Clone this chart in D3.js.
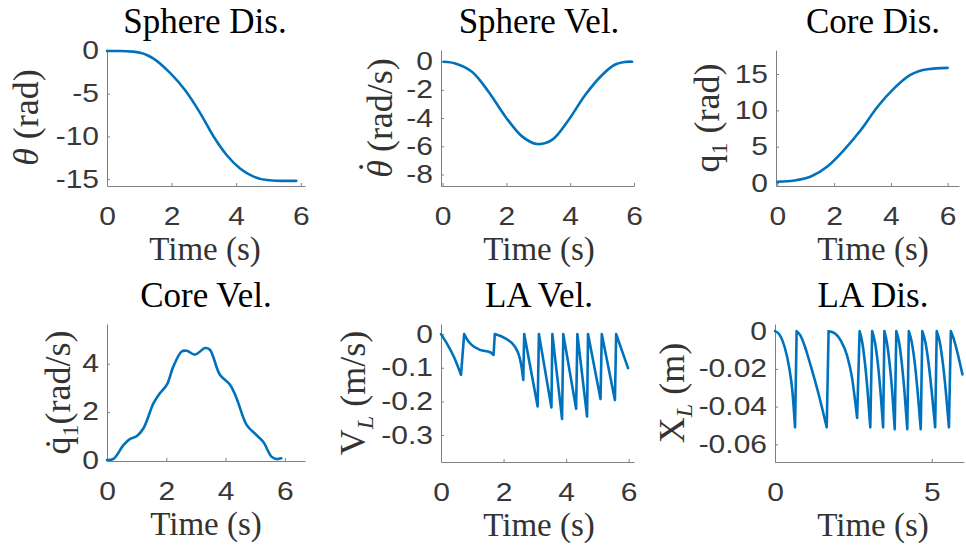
<!DOCTYPE html>
<html>
<head>
<meta charset="utf-8">
<script src="https://cdn.jsdelivr.net/npm/d3@7"></script>
<style>
  body { margin: 0; background: #fff; }
  svg { display: block; }
</style>
</head>
<body>
<svg id="fig" width="966" height="550"></svg>
<script>
// values, [time (s), value]
const sphereDis = [[0,0],[0.4,-0.01],[0.8,-0.08],[1.03,-0.22],[1.25,-0.5],[1.44,-0.9],[1.96,-2.6],[2.42,-4.6],
  [2.89,-7.3],[3.3,-10.0],[3.71,-12.2],[4.12,-13.75],[4.54,-14.7],[4.95,-15.1],[5.46,-15.2],[5.86,-15.2]]
const sphereVel = [[0.03,0],[0.4,-0.12],[0.92,-0.71],[1.44,-2.13],[1.97,-3.9],[2.49,-5.3],[2.96,-5.84],[3.43,-5.55],
  [3.95,-4.13],[4.47,-2.36],[5.0,-0.94],[5.41,-0.2],[5.7,-0.02],[5.94,0]]
const coreDis = [[0,0.18],[0.59,0.36],[1.18,0.9],[1.76,2.28],[2.35,4.57],[2.94,7.3],[3.53,10.5],[4.12,13.05],
  [4.7,14.9],[5.29,15.65],[6.0,15.84]]
const coreVel = [[0,0],[0.22,0.05],[0.56,0.63],[0.78,0.88],[1.0,0.99],[1.23,1.32],[1.57,2.36],[1.79,2.78],[2.02,3.13],
  [2.24,3.89],[2.52,4.51],[2.69,4.54],[2.97,4.38],[3.31,4.65],[3.47,4.58],[3.81,3.54],[4.15,3.13],[4.37,2.57],
  [4.71,1.46],[5.04,1.04],[5.27,0.76],[5.55,0.14],[5.71,0.04],[5.88,0.07]]
const laVel = [[0,0],[0.2,-0.03],[0.4,-0.065],[0.64,-0.121],[0.74,0],[0.85,-0.018],[0.98,-0.032],[1.25,-0.047],
  [1.57,-0.054],[1.68,-0.062],[1.72,0],[2.04,-0.012],[2.36,-0.037],[2.5,-0.065],[2.58,-0.1],[2.63,-0.136],
  [2.66,0],[3.09,-0.215],[3.13,0],[3.53,-0.218],[3.56,0],[3.87,-0.252],[3.91,0],[4.32,-0.222],[4.36,0],
  [4.67,-0.245],[4.7,0],[5.1,-0.193],[5.14,0],[5.56,-0.196],[5.6,0],[5.98,-0.101]]
const laDis = [[0,0],[0.15,-0.002],[0.3,-0.008],[0.45,-0.019],[0.55,-0.031],[0.64,-0.051],
  [0.69,0],[0.8,-0.002],[0.95,-0.008],[1.15,-0.019],[1.4,-0.034],[1.65,-0.051],
  [1.71,0],[1.9,-0.001],[2.1,-0.005],[2.3,-0.013],[2.45,-0.024],[2.62,-0.046],
  [2.7,0],[2.785,-0.006],[2.87,-0.017],[2.955,-0.032],[3.04,-0.051],
  [3.1,0],[3.19,-0.006],[3.28,-0.017],[3.365,-0.032],[3.45,-0.051],
  [3.49,0],[3.57,-0.006],[3.655,-0.017],[3.74,-0.032],[3.82,-0.052],
  [3.87,0],[3.96,-0.006],[4.045,-0.017],[4.13,-0.032],[4.22,-0.052],
  [4.27,0],[4.365,-0.006],[4.46,-0.017],[4.555,-0.033],[4.65,-0.052],
  [4.7,0],[4.8,-0.006],[4.9,-0.017],[5.0,-0.032],[5.11,-0.051],
  [5.16,0],[5.26,-0.006],[5.355,-0.017],[5.45,-0.032],[5.55,-0.051],
  [5.61,0],[5.7,-0.004],[5.8,-0.01],[5.9,-0.017],[5.98,-0.023]]

const titles = ["Sphere Dis.", "Sphere Vel.", "Core Dis.", "Core Vel.", "LA Vel.", "LA Dis."]
const xTickSets = [[0,2,4,6],[0,2,4,6],[0,2,4,6],[0,2,4,6],[0,2,4,6],[0,5]]
const yTickSets = [[0,-5,-10,-15],[0,-2,-4,-6,-8],[0,5,10,15],[0,2,4],[0,-0.1,-0.2,-0.3],[0,-0.02,-0.04,-0.06]]

const lineColor = "#0072BD"
const axisColor = "#808080"
const tickColor = "#383838"
const serif = "'Liberation Serif', 'Times New Roman', serif"
const sans = "'Liberation Sans', Arial, Helvetica, sans-serif"
const tickScaleX = 1.2

// axes boxes and label placement
const panels = [
  { data: sphereDis, curve: "mono", left: 107, right: 305, top: 49, bottom: 186, xDomain: [0, 6.13], yDomain: [-15.8, 0.23],
    titleX: 205, titleY: 33, labelDx: -69,
    ylabel: [{ t: "\u03b8", it: true }, { t: " (rad)" }] },
  { data: sphereVel, curve: "smooth", left: 441, right: 634, top: 50, bottom: 186, xDomain: [-0.05, 6.0], yDomain: [-8.82, 0.83],
    titleX: 539, titleY: 33, labelDx: -49,
    ylabel: [{ t: "\u03b8", it: true }, { t: "\u02d9", dot: true }, { t: " (rad/s)" }] },
  { data: coreDis, curve: "mono", left: 776, right: 959, top: 50, bottom: 186, xDomain: [-0.05, 6.4], yDomain: [-0.4, 18.3],
    titleX: 873, titleY: 33, labelDx: -57,
    ylabel: [{ t: "q" }, { t: "1", sub: true }, { t: " (rad)" }] },
  { data: coreVel, curve: "smooth", left: 107, right: 305, top: 324, bottom: 461, xDomain: [0, 6.68], yDomain: [-0.04, 5.65],
    titleX: 206, titleY: 307, labelDx: -37,
    ylabel: [{ t: "q\u0307" }, { t: "1", sub: true }, { t: "(rad/s)" }] },
  { data: laVel, curve: "saw", left: 441, right: 634, top: 324, bottom: 462, xDomain: [0, 6.17], yDomain: [-0.38, 0.03],
    titleX: 539, titleY: 307, labelDx: -76,
    ylabel: [{ t: "V" }, { t: "L", sub: true, it: true }, { t: " (m/s)" }] },
  { data: laDis, curve: "saw", left: 775, right: 964, top: 324, bottom: 462, xDomain: [0, 6.03], yDomain: [-0.0694, 0.0038],
    titleX: 873, titleY: 307, labelDx: -91,
    ylabel: [{ t: "X" }, { t: "L", sub: true, it: true }, { t: " (m)" }] }
]

const svg = d3.select("#fig")

function tickText(d) { return d === 0 ? "0" : String(d) }

function sawPath(data, line) {
  // split into falling runs, smooth each, join them with straight jumps
  const runs = []
  let run = [data[0]]
  for (let i = 1; i < data.length; i++) {
    if (data[i][1] > data[i - 1][1]) { runs.push(run); run = [] }
    run.push(data[i])
  }
  runs.push(run)
  return runs.map((r, i) => {
    const d = r.length > 1 ? line(r) : `M${line.x()(r[0])},${line.y()(r[0])}`
    return i === 0 ? d : "L" + d.slice(1)
  }).join("")
}

panels.forEach((p, i) => {
  const g = svg.append("g").attr("id", `panel${i}`)
  const x = d3.scaleLinear().domain(p.xDomain).range([p.left, p.right])
  const y = d3.scaleLinear().domain(p.yDomain).range([p.bottom, p.top])

  const xAxis = g.append("g")
    .attr("transform", `translate(0,${p.bottom})`)
    .call(d3.axisBottom(x).tickValues(xTickSets[i]).tickFormat(tickText)
      .tickSizeInner(-3).tickSizeOuter(0).tickPadding(21))
  const yAxis = g.append("g")
    .attr("transform", `translate(${p.left},0)`)
    .call(d3.axisLeft(y).tickValues(yTickSets[i]).tickFormat(tickText)
      .tickSizeInner(-3).tickSizeOuter(0).tickPadding(8))

  for (const ax of [xAxis, yAxis]) {
    ax.select(".domain").attr("stroke", axisColor).attr("stroke-width", 1)
    ax.selectAll(".tick line").attr("stroke", axisColor).attr("stroke-width", 1)
    ax.selectAll(".tick text")
      .attr("fill", tickColor)
      .style("font-family", sans)
      .style("font-size", "25px")
  }
  xAxis.selectAll(".tick text").attr("transform", `scale(${tickScaleX},1)`)
  yAxis.selectAll(".tick text")
    .attr("x", -8 / tickScaleX)
    .attr("transform", `scale(${tickScaleX},1)`)

  const line = d3.line().x(d => x(d[0])).y(d => y(d[1]))
  let pathD
  if (p.curve === "saw") {
    line.curve(d3.curveMonotoneX)
    pathD = sawPath(p.data, line)
  } else if (p.curve === "smooth") {
    pathD = line.curve(d3.curveCatmullRom.alpha(0.5))(p.data)
  } else {
    pathD = line.curve(d3.curveMonotoneX)(p.data)
  }
  g.append("path")
    .attr("d", pathD)
    .attr("fill", "none")
    .attr("stroke", lineColor)
    .attr("stroke-width", 2.6)
    .attr("stroke-linejoin", "round")
    .attr("stroke-linecap", "round")

  g.append("text")
    .attr("x", p.titleX).attr("y", p.titleY)
    .attr("text-anchor", "middle")
    .style("font-family", serif).style("font-size", "35px")
    .attr("fill", "#000")
    .text(titles[i])

  g.append("text")
    .attr("x", p.titleX).attr("y", p.bottom + 74)
    .attr("text-anchor", "middle")
    .style("font-family", serif).style("font-size", "33px")
    .attr("fill", "#333")
    .text("Time (s)")

  const yl = g.append("text")
    .attr("transform", `translate(${p.left + p.labelDx},${(p.top + p.bottom) / 2}) rotate(-90)`)
    .attr("text-anchor", "middle")
    .style("font-family", serif).style("font-size", "36px")
    .attr("fill", "#333")
  let shift = 0
  p.ylabel.forEach(part => {
    const ts = yl.append("tspan").text(part.t)
    if (part.it) ts.style("font-style", "italic")
    if (part.sub) { ts.style("font-size", "24px").attr("dy", 8); shift = 8 }
    else if (part.dot) { ts.attr("dx", "-0.36em").attr("dy", -9); shift = -9 }
    else if (shift) { ts.attr("dy", -shift); shift = 0 }
  })
})
</script>
</body>
</html>
